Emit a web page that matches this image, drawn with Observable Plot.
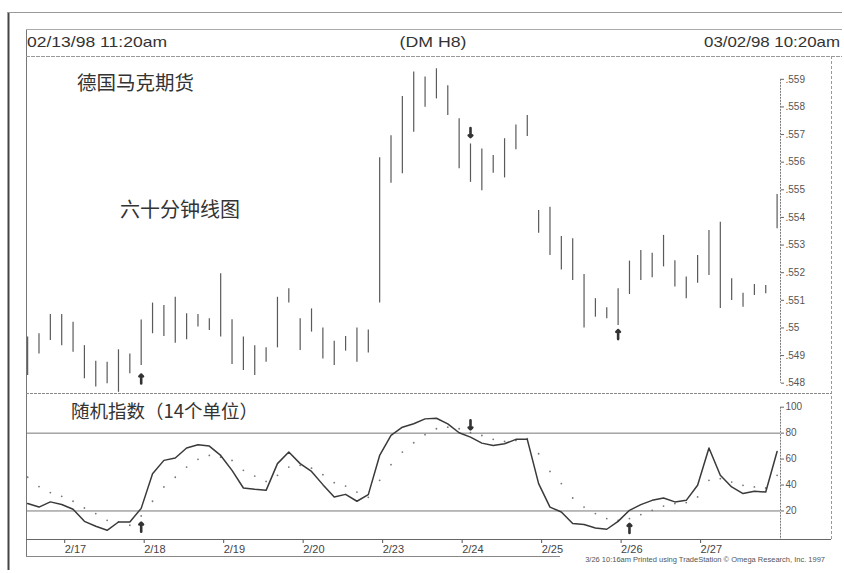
<!DOCTYPE html>
<html>
<head>
<meta charset="utf-8">
<script src="https://cdn.jsdelivr.net/npm/d3@7"></script>
<script src="https://cdn.jsdelivr.net/npm/@observablehq/plot@0.6"></script>
<style>
  html, body { margin: 0; padding: 0; background: #fff; }
  #wrap { position: relative; width: 844px; height: 573px; overflow: hidden; background: #fff; font-family: "Liberation Sans", Arial, sans-serif; }
  #wrap > .panel { position: absolute; left: 0; }
  #overlay { position: absolute; left: 0; top: 0; pointer-events: none; }
</style>
</head>
<body>
<div id="wrap"></div>
<script>
// ---- data ----
const highs = [549.67, 549.79, 550.49, 550.49, 550.21, 549.36, 548.79, 548.76, 549.21, 549.06,
  550.29, 550.9, 550.81, 551.11, 550.51, 550.49, 550.33, 551.96, 550.3, 549.67,
  549.36, 549.28, 551.11, 551.42, 550.33, 550.69, 550.0, 549.52, 549.69, 550.0,
  549.93, 556.16, 556.96, 558.38, 559.26, 559.08, 559.38, 558.77, 557.57, 556.66,
  556.48, 556.24, 556.85, 557.35, 557.69, 554.25, 554.37, 553.31, 553.23, 551.93,
  551.06, 550.73, 551.42, 552.42, 552.8, 552.7, 553.35, 552.43, 551.84, 552.62,
  553.53, 553.83, 551.78, 551.26, 551.57, 551.54, 554.83];
const lows = [548.28, 549.06, 549.55, 549.36, 549.12, 548.16, 547.86, 547.98, 547.67, 548.34,
  548.64, 549.79, 549.69, 549.45, 549.57, 550.03, 549.91, 549.67, 548.68, 548.46,
  548.28, 548.76, 549.28, 550.9, 549.18, 549.85, 548.88, 548.64, 549.16, 548.76,
  549.09, 550.9, 555.24, 555.58, 557.08, 557.99, 558.29, 557.69, 555.76, 555.27,
  554.97, 555.6, 555.43, 556.45, 556.93, 553.43, 552.62, 552.1, 551.72, 550.0,
  550.39, 550.33, 550.09, 551.21, 551.72, 551.82, 552.21, 551.48, 551.06, 551.62,
  551.9, 550.7, 550.99, 550.75, 551.17, 551.24, 553.59];
const stochK = [25.7, 23, 27, 25, 21.3, 12, 8.2, 5.1, 11.5, 11.5,
  22, 48.7, 59, 60.8, 68.5, 71, 70, 62.8, 51.3, 37.7,
  36.7, 35.9, 56.5, 65.4, 56.5, 50.5, 40.3, 30.8, 32.8, 27.5,
  32.6, 62.8, 78.2, 84.6, 87.2, 91, 91.5, 87.2, 80.3, 76.9,
  72.3, 70.5, 71.8, 75.2, 75.2, 41.1, 23, 19.2, 10.3, 9.5,
  6.9, 5.9, 12, 20.5, 24.9, 28.2, 30, 27, 28.2, 39.8,
  68.5, 47.5, 38.5, 33.4, 35.2, 34.6, 65.9];
const stochD = [46, 38.8, 34.2, 31.3, 27.5, 22.3, 18, 12.8, 11.5, 9,
  16.2, 27.5, 38.5, 46, 53.8, 59.8, 62.8, 61.5, 59, 51.3,
  46.9, 42.8, 47.5, 53.8, 55.2, 53, 48, 41.8, 39.2, 34.6,
  30.5, 43.6, 55.7, 65.4, 72.6, 78.8, 83.4, 84.6, 83.4, 80.3,
  78.2, 75.2, 73.6, 74.4, 75.7, 64.1, 50.5, 41.1, 30, 23,
  18, 14.1, 12.8, 14.1, 17.2, 20.5, 23.8, 25.7, 26.5, 30.8,
  43.6, 44.9, 42.3, 39.8, 38.5, 37.7, 47.5];
const dayStartBars = [3, 10, 17, 24, 31, 38, 45, 52, 59];
const dayLabels = ["2/17", "2/18", "2/19", "2/20", "2/23", "2/24", "2/25", "2/26", "2/27"];
const priceTicks = [548, 549, 550, 551, 552, 553, 554, 555, 556, 557, 558, 559];
const stochTicks = [20, 40, 60, 80, 100];
const stochLevels = [20, 80];
const priceArrowBars = [10, 39, 52];
const priceArrowDirs = ["up", "down", "up"];
const priceArrowLevels = [548.15, 557.07, 549.76];
const stochArrowBars = [10, 39, 53];
const stochArrowDirs = ["up", "down", "up"];
const stochArrowLevels = [7.5, 86.4, 6.5];
const headerLeft = "02/13/98 11:20am";
const headerCenter = "(DM H8)";
const headerRight = "03/02/98 10:20am";
const titleText = "德国马克期货";
const subtitleText = "六十分钟线图";
const stochTitle = "随机指数（14个单位）";
const footerText = "3/26 10:16am Printed using TradeStation © Omega Research, Inc. 1997";

// ---- tables built from the arrays ----
const bars = highs.map((h, i) => ({i, high: h, low: lows[i]}));
const stoch = stochK.map((k, i) => ({i, k, d: stochD[i]}));
const priceArrows = priceArrowBars.map((b, j) => ({i: b, dir: priceArrowDirs[j], v: priceArrowLevels[j]}));
const stochArrows = stochArrowBars.map((b, j) => ({i: b, dir: stochArrowDirs[j], v: stochArrowLevels[j]}));
const labelByBar = new Map(dayStartBars.map((b, j) => [b, dayLabels[j]]));

const xDomain = [-0.1, 66.3];
const font = "'Liberation Sans', Arial, sans-serif";
const wrap = document.getElementById("wrap");

const pricePlot = Plot.plot({
  width: 844, height: 337,
  marginLeft: 26, marginRight: 64, marginTop: 22.8, marginBottom: 10.3,
  style: {background: "transparent", fontFamily: font, color: "#444"},
  x: {domain: xDomain, axis: null},
  y: {domain: [548, 559], axis: null},
  marks: [
    Plot.ruleX(bars, {x: "i", y1: "low", y2: "high", stroke: "#5a5a5a", strokeWidth: 1.2}),
    Plot.ruleX([xDomain[1]], {stroke: "#777", strokeDasharray: "2,1"}),
    Plot.axisY(priceTicks, {anchor: "right", label: null, tickSize: 3, tickPadding: 2, fontSize: 10, fill: "#555", stroke: "#666",
      tickFormat: d => String(d / 1000).slice(1)}),
    Plot.vector(priceArrows, {x: "i", y: "v", length: 9, rotate: d => d.dir === "up" ? 0 : 180,
      stroke: "#333", strokeWidth: 2.6})
  ]
});
pricePlot.classList.add("panel");
pricePlot.style.top = "56px";
wrap.appendChild(pricePlot);

const stochPlot = Plot.plot({
  width: 844, height: 161,
  marginLeft: 26, marginRight: 64, marginTop: 11.7, marginBottom: 17,
  style: {background: "transparent", fontFamily: font, color: "#444"},
  x: {domain: xDomain, axis: null},
  y: {domain: [-2, 100], axis: null},
  marks: [
    Plot.ruleY(stochLevels, {stroke: "#777", strokeWidth: 1}),
    Plot.dot(stoch, {x: "i", y: "d", r: 0.9, fill: "#777", stroke: null}),
    Plot.line(stoch, {x: "i", y: "k", stroke: "#3a3a3a", strokeWidth: 1.5}),
    Plot.ruleX([xDomain[1]], {stroke: "#777", strokeDasharray: "2,1"}),
    Plot.axisY(stochTicks, {anchor: "right", label: null, tickSize: 3, tickPadding: 2, fontSize: 10, fill: "#555", stroke: "#666"}),
    Plot.axisX(dayStartBars, {anchor: "bottom", label: null, tickSize: 4, tickPadding: 2, fontSize: 11, fill: "#444", stroke: "#555",
      textAnchor: "start", dx: 3, tickFormat: d => labelByBar.get(d)}),
    Plot.vector(stochArrows, {x: "i", y: "v", length: 9, rotate: d => d.dir === "up" ? 0 : 180,
      stroke: "#333", strokeWidth: 2.6})
  ]
});
stochPlot.classList.add("panel");
stochPlot.style.top = "395px";
wrap.appendChild(stochPlot);

// ---- frame, header, labels, footer ----
const ns = "http://www.w3.org/2000/svg";
const ov = document.createElementNS(ns, "svg");
ov.setAttribute("id", "overlay");
ov.setAttribute("width", 844);
ov.setAttribute("height", 573);
wrap.appendChild(ov);
function line(x1, y1, x2, y2, stroke, w, dash) {
  const l = document.createElementNS(ns, "line");
  l.setAttribute("x1", x1); l.setAttribute("y1", y1); l.setAttribute("x2", x2); l.setAttribute("y2", y2);
  l.setAttribute("stroke", stroke); l.setAttribute("stroke-width", w);
  if (dash) l.setAttribute("stroke-dasharray", dash);
  ov.appendChild(l);
}
function text(str, x, y, opts) {
  const t = document.createElementNS(ns, "text");
  t.textContent = str;
  t.setAttribute("x", x); t.setAttribute("y", y);
  t.setAttribute("font-family", opts.family || font);
  t.setAttribute("font-size", opts.size);
  t.setAttribute("fill", opts.fill || "#333");
  if (opts.anchor) t.setAttribute("text-anchor", opts.anchor);
  if (opts.weight) t.setAttribute("font-weight", opts.weight);
  if (opts.len) { t.setAttribute("textLength", opts.len); t.setAttribute("lengthAdjust", "spacingAndGlyphs"); }
  ov.appendChild(t);
}
// outer frame
line(8.5, 12, 8.5, 570, "#444", 2);
line(8, 12.5, 842, 12.5, "#999", 1);
// inner frame
line(26.5, 29, 26.5, 556, "#777", 1);
line(26, 29.5, 842, 29.5, "#aaa", 1);
line(26, 56.5, 842, 56.5, "#999", 1, "4,1");
line(831.5, 56, 831.5, 539, "#999", 1, "3,2");
line(26, 393.5, 831, 393.5, "#888", 1, "3,1");
line(26, 539.5, 831, 539.5, "#666", 1);
line(26, 556.5, 560, 556.5, "#888", 1);

const cjk = "'Noto Sans CJK SC', sans-serif";
text(headerLeft, 27, 47, {size: 15, len: 140, fill: "#333"});
text(headerCenter, 433, 47, {size: 15, anchor: "middle", len: 67, fill: "#333"});
text(headerRight, 840, 47, {size: 15, anchor: "end", len: 136, fill: "#333"});
text(titleText, 77, 89.5, {size: 19.5, family: cjk, fill: "#333"});
text(subtitleText, 120, 217, {size: 20, family: cjk, fill: "#333"});
text(stochTitle, 71, 418, {size: 18.5, family: cjk, fill: "#333"});
text(footerText, 825, 562, {size: 7.5, anchor: "end", fill: "#555"});
</script>
</body>
</html>
